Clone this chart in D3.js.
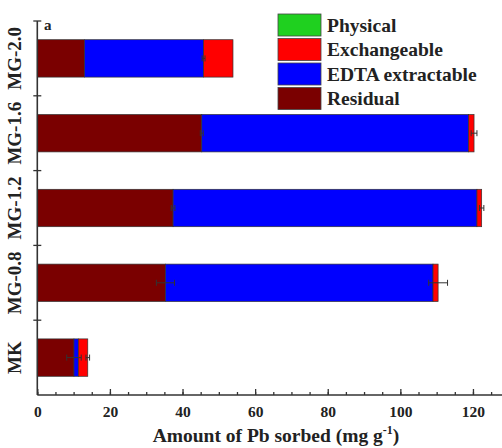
<!DOCTYPE html>
<html>
<head>
<meta charset="utf-8">
<script src="https://cdn.jsdelivr.net/npm/d3@7"></script>
<style>
  body { margin: 0; background: #fff; }
  text { font-family: "Liberation Serif", "Times New Roman", serif; font-weight: bold; fill: #222; }
</style>
</head>
<body>
<div id="chart"></div>
<script>
document.addEventListener("DOMContentLoaded", function() {
  var width = 502,
      height = 448;

  // samples, top to bottom
  var samples = ['MG-2.0', 'MG-1.6', 'MG-1.2', 'MG-0.8', 'MK'];

  // Pb fractions (mg/g), stacked left to right: residual, EDTA, exchangeable, physical
  var residual     = [13.0, 45.3, 37.4, 35.3, 10.1];
  var edta         = [32.8, 73.5, 83.7, 73.7, 1.2];
  var exchangeable = [8.1, 1.5, 1.3, 1.4, 2.6];
  var physical     = [0, 0, 0, 0, 0];

  // error (+/-) drawn at the end of each segment
  var residualErr     = [0, 0.4, 0.5, 2.5, 2.0];
  var edtaErr         = [0.4, 0, 0, 0, 0];
  var exchangeableErr = [0, 0.8, 0.6, 2.6, 0.5];
  var physicalErr     = [0, 0, 0, 0, 0];

  var xTicks = [0, 20, 40, 60, 80, 100, 120];

  var series = [
    { key: 'residual', name: 'Residual', color: '#7a0000', values: residual, err: residualErr },
    { key: 'edta', name: 'EDTA extractable', color: '#0000ff', values: edta, err: edtaErr },
    { key: 'exchangeable', name: 'Exchangeable', color: '#ff0000', values: exchangeable, err: exchangeableErr },
    { key: 'physical', name: 'Physical', color: '#1fd01f', values: physical, err: physicalErr }
  ];

  var rows = samples.map(function(s, i) {
    var r = { sample: s };
    series.forEach(function(se) { r[se.key] = se.values[i]; });
    return r;
  });

  var stacked = d3.stack().keys(series.map(function(s) { return s.key; }))(rows);

  var svg = d3.select('#chart').append('svg')
    .attr('width', width)
    .attr('height', height);

  var x = d3.scaleLinear().domain([0, 128]).range([37.3, 502]);
  var y = d3.scaleBand().domain(samples).range([21, 395]).paddingInner(0.5).paddingOuter(0.25);

  // bars
  var layers = svg.append('g').selectAll('g')
    .data(stacked)
    .enter().append('g')
    .attr('fill', function(d, i) { return series[i].color; });

  layers.selectAll('rect')
    .data(function(d) { return d; })
    .enter().append('rect')
    .attr('x', function(d) { return x(d[0]); })
    .attr('y', function(d) { return y(d.data.sample); })
    .attr('width', function(d) { return x(d[1]) - x(d[0]); })
    .attr('height', y.bandwidth())
    .attr('stroke', '#333')
    .attr('stroke-width', 0.7);

  // error bars
  var errs = [];
  stacked.forEach(function(layer, li) {
    layer.forEach(function(d, i) {
      var e = series[li].err[i];
      if (e > 0) errs.push({ v: d[1], e: e, sample: d.data.sample });
    });
  });

  var eb = svg.append('g').attr('stroke', '#333').attr('stroke-width', 1);
  eb.selectAll('line.h')
    .data(errs)
    .enter().append('line')
    .attr('x1', function(d) { return x(d.v - d.e); })
    .attr('x2', function(d) { return x(d.v + d.e); })
    .attr('y1', function(d) { return y(d.sample) + y.bandwidth() / 2; })
    .attr('y2', function(d) { return y(d.sample) + y.bandwidth() / 2; });
  eb.selectAll('line.c')
    .data(errs.reduce(function(a, d) { return a.concat([{ v: d.v - d.e, s: d.sample }, { v: d.v + d.e, s: d.sample }]); }, []))
    .enter().append('line')
    .attr('x1', function(d) { return x(d.v); })
    .attr('x2', function(d) { return x(d.v); })
    .attr('y1', function(d) { return y(d.s) + y.bandwidth() / 2 - 3; })
    .attr('y2', function(d) { return y(d.s) + y.bandwidth() / 2 + 3; });

  // x axis
  var xAxis = svg.append('g').attr('transform', 'translate(0,395)');
  xAxis.call(d3.axisBottom(x).tickValues(d3.range(0, 130, 5)).tickSize(-3).tickFormat(''))
    .call(function(g) { g.select('.domain').remove(); });
  xAxis.append('g')
    .call(d3.axisBottom(x).tickValues(xTicks).tickSize(-6).tickPadding(11).tickFormat(d3.format('d')))
    .call(function(g) {
      g.select('.domain').remove();
      g.selectAll('text').attr('font-size', 15.5).attr('font-family', null).attr('fill', '#222');
    });
  xAxis.selectAll('.tick line').attr('stroke', '#333').attr('stroke-width', 1.3);
  xAxis.append('line')
    .attr('x1', x(0)).attr('x2', width)
    .attr('stroke', '#333').attr('stroke-width', 1.6);

  // y axis
  var yAxis = svg.append('g');
  yAxis.append('line')
    .attr('x1', x(0)).attr('x2', x(0))
    .attr('y1', 21).attr('y2', 395)
    .attr('stroke', '#333').attr('stroke-width', 1.6);
  var step = y.step();
  var yTickPos = d3.range(0, samples.length).map(function(i) { return 21 + i * step; });
  yAxis.selectAll('line.t')
    .data(yTickPos)
    .enter().append('line')
    .attr('x1', x(0) - 4).attr('x2', x(0) + 4)
    .attr('y1', function(d) { return d; })
    .attr('y2', function(d) { return d; })
    .attr('stroke', '#333').attr('stroke-width', 1.3);
  yAxis.selectAll('text')
    .data(samples)
    .enter().append('text')
    .attr('transform', function(d) { return 'translate(21,' + (y(d) + y.bandwidth() / 2) + ') rotate(-90)'; })
    .attr('text-anchor', 'middle')
    .attr('font-size', 19)
    .text(function(d) { return d; });

  // panel letter
  svg.append('text').attr('x', 44).attr('y', 30).attr('font-size', 15).text('a');

  // x title
  var title = svg.append('text')
    .attr('x', 276).attr('y', 442)
    .attr('text-anchor', 'middle')
    .attr('font-size', 19.5);
  title.append('tspan').text('Amount of Pb sorbed (mg g');
  title.append('tspan').attr('font-size', 12).attr('dy', -8).text('-1');
  title.append('tspan').attr('dy', 8).text(')');

  // legend
  var legendOrder = series.slice().reverse();
  var legend = svg.append('g').selectAll('g')
    .data(legendOrder)
    .enter().append('g')
    .attr('transform', function(d, i) { return 'translate(278,' + (14 + i * 24.5) + ')'; });
  legend.append('rect')
    .attr('width', 43).attr('height', 22)
    .attr('fill', function(d) { return d.color; })
    .attr('stroke', '#444').attr('stroke-width', 0.8);
  legend.append('text')
    .attr('x', 49).attr('y', 17.5)
    .attr('font-size', 19.5)
    .text(function(d) { return d.name; });
});
</script>
</body>
</html>
